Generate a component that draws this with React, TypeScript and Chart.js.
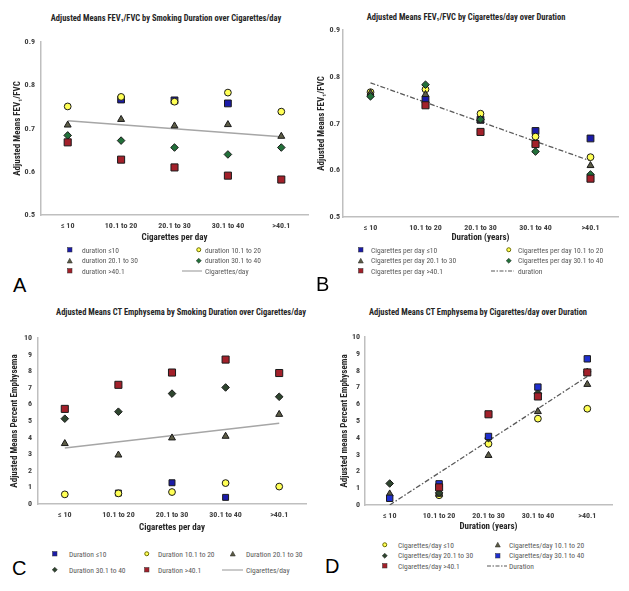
import React, { useEffect, useRef } from "react";
import { Chart, registerables } from "chart.js";
Chart.register(...registerables);

// ---------- DATA ----------
const categories = ["≤ 10", "10.1 to 20", "20.1 to 30", "30.1 to 40", ">40.1"];

// Panel A: FEV1/FVC by smoking duration (series) over cigarettes/day (x)
const aDurLe10 = [null, 0.767, 0.765, 0.758, null];
const aDur10to20 = [0.751, 0.773, 0.762, 0.783, 0.739];
const aDur20to30 = [0.708, 0.721, 0.706, 0.709, 0.682];
const aDur30to40 = [0.684, 0.672, 0.656, 0.640, 0.656];
const aDurGt40 = [0.668, 0.628, 0.610, 0.591, 0.582];
const aTrend = [0.718, null, null, null, 0.681];

// Panel B: FEV1/FVC by cigarettes/day (series) over duration (x)
const bCigLe10 = [null, 0.751, 0.708, 0.684, 0.668];
const bCig10to20 = [0.767, 0.773, 0.721, 0.672, 0.628];
const bCig20to30 = [0.765, 0.762, 0.706, 0.656, 0.610];
const bCig30to40 = [0.758, 0.783, 0.709, 0.640, 0.591];
const bCigGt40 = [null, 0.739, 0.682, 0.656, 0.582];
const bTrend = [0.787, null, null, null, 0.620];

// Panel C: % emphysema by duration (series) over cigarettes/day (x)
const cDurLe10 = [null, 0.66, 1.28, 0.40, null];
const cDur10to20 = [0.58, 0.64, 0.72, 1.26, 1.05];
const cDur20to30 = [3.64, 2.95, 3.98, 4.08, 5.40];
const cDur30to40 = [5.14, 5.56, 6.65, 7.02, 6.46];
const cDurGt40 = [5.73, 7.18, 7.92, 8.70, 7.89];
const cTrend = [3.37, null, null, null, 4.86];

// Panel D: % emphysema by cigarettes/day (series) over duration (x)
const dCigLe10 = [null, 0.58, 3.64, 5.14, 5.73];
const dCig10to20 = [0.66, 0.64, 2.95, 5.56, 7.18];
const dCig20to30 = [1.28, 0.72, 3.98, 6.65, 7.92];
const dCig30to40 = [0.40, 1.26, 4.08, 7.02, 8.70];
const dCigGt40 = [null, 1.05, 5.40, 6.46, 7.89];
const dTrend = [0, null, null, null, 7.65];

// ---------- STYLE ----------
const FONT = "'Liberation Sans Narrow', 'Arial Narrow', 'Roboto Condensed', 'Liberation Sans', sans-serif";
const BLUE = "#1b1ba8";
const YELLOW = "#ffff55";
const OLIVE = "#5c5c46";
const GREEN = "#22703a";
const DARKG = "#2e452e";
const RED = "#a3202a";
const TREND = "#a6a6a6";
const DASH = "#595959";

type Kind = "rect" | "circle" | "triangle" | "rectRot" | "line" | "dashdot";
interface S { label: string; data: (number | null)[]; kind: Kind; fill: string; r: number; }

const mk = (label: string, data: (number | null)[], kind: Kind, fill: string, r: number): S => ({ label, data, kind, fill, r });

interface LegendItem { s: S; mx: number; tx: number; y: number; lx0?: number; lx1?: number; }

interface PanelCfg {
  panelX: number;
  plot: { left: number; right: number; top: number; bottom: number };
  series: S[];
  yMin: number; yMax: number; yStep: number; yDec: number;
  yTitle: string; xTitle: string;
  yTitlePad: number; xTitlePad: number; yTickPad: number;
}

function PanelChart({ cfg }: { cfg: PanelCfg }) {
  const ref = useRef<HTMLCanvasElement | null>(null);
  const { panelX, plot } = cfg;
  const cTop = plot.top - 12;
  const cW = plot.right + 6 - panelX;
  const cH = plot.bottom + 32 - cTop;
  useEffect(() => {
    if (!ref.current) return;
    const n = cfg.series.length;
    const datasets: any[] = cfg.series.map((s, i) => {
      if (s.kind === "line" || s.kind === "dashdot") {
        return {
          label: s.label, data: s.data, spanGaps: true, pointRadius: 0,
          borderColor: s.fill, borderWidth: s.kind === "line" ? 1.5 : 1.3,
          borderDash: s.kind === "dashdot" ? [5, 2, 1.5, 2] : [],
          order: 100, fill: false, tension: 0,
        };
      }
      return {
        label: s.label, data: s.data, showLine: false,
        pointStyle: s.kind, pointRadius: s.r, pointHoverRadius: s.r,
        pointBackgroundColor: s.fill, pointBorderColor: "#1a1a1a", pointBorderWidth: 1,
        order: n - i,
      };
    });
    const chart = new Chart(ref.current, {
      type: "line",
      data: { labels: categories, datasets },
      options: {
        responsive: false,
        animation: false,
        layout: { padding: { top: 12, right: 6, left: 0, bottom: 0 } },
        plugins: { legend: { display: false }, tooltip: { enabled: false }, title: { display: false } },
        scales: {
          x: {
            type: "category", offset: true,
            grid: { display: false, drawTicks: false },
            border: { display: true, color: "#bfbfbf", width: 1.5 },
            ticks: { padding: 6, color: "#404040", autoSkip: false, maxRotation: 0, font: { family: FONT, size: 8, weight: "bold" } },
            title: { display: true, text: cfg.xTitle, color: "#262626", font: { family: FONT, size: 9, weight: "bold" }, padding: { top: 0, bottom: cfg.xTitlePad } },
            afterFit: (s: any) => { s.height = 32; },
          },
          y: {
            min: cfg.yMin, max: cfg.yMax,
            grid: { display: false, drawTicks: false },
            border: { display: true, color: "#bfbfbf", width: 1.5 },
            ticks: {
              stepSize: cfg.yStep, padding: cfg.yTickPad, color: "#404040",
              font: { family: FONT, size: 8, weight: "bold" },
              callback: (v: any) => Number(v).toFixed(cfg.yDec),
            },
            title: { display: true, text: cfg.yTitle, color: "#262626", font: { family: FONT, size: 9, weight: "bold" }, padding: { top: cfg.yTitlePad, bottom: 0 } },
            afterFit: (s: any) => { s.width = plot.left - panelX; },
          },
        },
      } as any,
    });
    return () => chart.destroy();
  }, []);
  return (
    <canvas
      ref={ref}
      width={cW}
      height={cH}
      style={{ position: "absolute", left: panelX, top: cTop, width: cW, height: cH }}
    />
  );
}

function Marker({ s, x, y, lx0, lx1 }: { s: S; x: number; y: number; lx0?: number; lx1?: number }) {
  if (s.kind === "line" || s.kind === "dashdot") {
    const a = lx0 ?? x - 10, b = lx1 ?? x + 10;
    return (
      <svg style={{ position: "absolute", left: a, top: y - 2, overflow: "visible" }} width={b - a} height={4}>
        <line x1={0} y1={2} x2={b - a} y2={2} stroke={s.fill} strokeWidth={1.2}
          strokeDasharray={s.kind === "dashdot" ? "4 1.5 1.5 1.5" : undefined} />
      </svg>
    );
  }
  const sz = 6;
  let shape: any;
  if (s.kind === "rect") shape = <rect x={0.5} y={0.5} width={4.5} height={4.5} fill={s.fill} stroke="#333" strokeWidth={0.5} />;
  else if (s.kind === "circle") shape = <circle cx={2.75} cy={2.75} r={2} fill={YELLOW} stroke="#6b6b00" strokeWidth={1} />;
  else if (s.kind === "triangle") shape = <polygon points="2.75,0.3 5.3,5 0.2,5" fill={s.fill} stroke="#222" strokeWidth={0.5} />;
  else shape = <polygon points="2.75,0.2 5.3,2.75 2.75,5.3 0.2,2.75" fill={s.fill} stroke="#222" strokeWidth={0.5} />;
  return (
    <svg style={{ position: "absolute", left: x - 2.75, top: y - 2.75 }} width={sz} height={sz}>{shape}</svg>
  );
}

function Legend({ items }: { items: LegendItem[] }) {
  return (
    <>
      {items.map((it, i) => (
        <React.Fragment key={i}>
          <Marker s={it.s} x={it.mx} y={it.y} lx0={it.lx0} lx1={it.lx1} />
          <div style={{
            position: "absolute", left: it.tx, top: it.y - 4.5, fontFamily: FONT, fontSize: 7.5,
            lineHeight: "9px", color: "#595959", whiteSpace: "nowrap",
          }}>{it.s.label}</div>
        </React.Fragment>
      ))}
    </>
  );
}

function Title({ text, cx, cy }: { text: string; cx: number; cy: number }) {
  return (
    <div style={{
      position: "absolute", left: cx, top: cy - 5, transform: "translateX(-50%)",
      fontFamily: FONT, fontWeight: "bold", fontSize: 8.5, lineHeight: "10px", color: "#262626", whiteSpace: "nowrap",
    }}>{text}</div>
  );
}

function Letter({ text, x, cy }: { text: string; x: number; cy: number }) {
  return (
    <div style={{
      position: "absolute", left: x, top: cy - 10, fontFamily: "'Liberation Sans', Arial, sans-serif",
      fontSize: 20, lineHeight: "20px", color: "#000",
    }}>{text}</div>
  );
}

// series definitions
const A = [
  mk("duration ≤10", aDurLe10, "rect", BLUE, 4.8),
  mk("duration 10.1 to 20", aDur10to20, "circle", YELLOW, 3.4),
  mk("duration 20.1 to 30", aDur20to30, "triangle", OLIVE, 4),
  mk("duration 30.1 to 40", aDur30to40, "rectRot", GREEN, 3.8),
  mk("duration >40.1", aDurGt40, "rect", RED, 5),
  mk("Cigarettes/day", aTrend, "line", TREND, 0),
];
const B = [
  mk("Cigarettes per day ≤10", bCigLe10, "rect", BLUE, 4.8),
  mk("Cigarettes per day 10.1 to 20", bCig10to20, "circle", YELLOW, 3.4),
  mk("Cigarettes per day 20.1 to 30", bCig20to30, "triangle", OLIVE, 4),
  mk("Cigarettes per day 30.1 to 40", bCig30to40, "rectRot", GREEN, 3.8),
  mk("Cigarettes per day >40.1", bCigGt40, "rect", RED, 5),
  mk("duration", bTrend, "dashdot", DASH, 0),
];
const C = [
  mk("Duration ≤10", cDurLe10, "rect", BLUE, 4.2),
  mk("Duration 10.1 to 20", cDur10to20, "circle", YELLOW, 3.4),
  mk("Duration 20.1 to 30", cDur20to30, "triangle", OLIVE, 4),
  mk("Duration 30.1 to 40", cDur30to40, "rectRot", DARKG, 3.8),
  mk("Duration >40.1", cDurGt40, "rect", RED, 5),
  mk("Cigarettes/day", cTrend, "line", TREND, 0),
];
const D = [
  mk("Cigarettes/day ≤10", dCigLe10, "circle", YELLOW, 3.4),
  mk("Cigarettes/day 10.1 to 20", dCig10to20, "triangle", OLIVE, 4),
  mk("Cigarettes/day 20.1 to 30", dCig20to30, "rectRot", DARKG, 3.8),
  mk("Cigarettes/day 30.1 to 40", dCig30to40, "rect", "#1f2fd0", 4.5),
  mk("Cigarettes/day >40.1", dCigGt40, "rect", RED, 5),
  mk("Duration", dTrend, "dashdot", DASH, 0),
];

const cfgA: PanelCfg = {
  panelX: 0, plot: { left: 41, right: 308, top: 42, bottom: 215 }, series: A,
  yMin: 0.5, yMax: 0.9, yStep: 0.1, yDec: 1,
  yTitle: "Adjusted Means FEV₁/FVC", xTitle: "Cigarettes per day", yTitlePad: 12.6, xTitlePad: 4.3, yTickPad: 6,
};
const cfgB: PanelCfg = {
  panelX: 315, plot: { left: 343, right: 618, top: 30, bottom: 217 }, series: B,
  yMin: 0.5, yMax: 0.9, yStep: 0.1, yDec: 1,
  yTitle: "Adjusted Means FEV₁/FVC", xTitle: "Duration (years)", yTitlePad: 1.8, xTitlePad: 5.6, yTickPad: 3,
};
const cfgC: PanelCfg = {
  panelX: 0, plot: { left: 38, right: 306, top: 338, bottom: 504 }, series: C,
  yMin: 0, yMax: 10, yStep: 1, yDec: 0,
  yTitle: "Adjusted Means Percent Emphysema", xTitle: "Cigarettes per day", yTitlePad: 9.6, xTitlePad: 2.6, yTickPad: 6,
};
const cfgD: PanelCfg = {
  panelX: 315, plot: { left: 365, right: 612, top: 337, bottom: 505 }, series: D,
  yMin: 0, yMax: 10, yStep: 1, yDec: 0,
  yTitle: "Adjusted means Percent Emphysema", xTitle: "Duration (years)", yTitlePad: 24.6, xTitlePad: 4.6, yTickPad: 5,
};

const legA: LegendItem[] = [
  { s: A[0], mx: 70, tx: 82, y: 250 },
  { s: A[1], mx: 199, tx: 205, y: 250 },
  { s: A[2], mx: 70, tx: 82, y: 260.5 },
  { s: A[3], mx: 199, tx: 205, y: 260.5 },
  { s: A[4], mx: 70, tx: 82, y: 271 },
  { s: A[5], mx: 192, tx: 205, y: 271, lx0: 182, lx1: 202 },
];
const legB: LegendItem[] = [
  { s: B[0], mx: 361, tx: 371, y: 250 },
  { s: B[1], mx: 509, tx: 518, y: 250 },
  { s: B[2], mx: 361, tx: 371, y: 260.5 },
  { s: B[3], mx: 509, tx: 518, y: 260.5 },
  { s: B[4], mx: 361, tx: 371, y: 271 },
  { s: B[5], mx: 502, tx: 518, y: 271, lx0: 491, lx1: 514 },
];
const legC: LegendItem[] = [
  { s: C[0], mx: 55, tx: 69, y: 554 },
  { s: C[1], mx: 147, tx: 158, y: 554 },
  { s: C[2], mx: 233, tx: 246, y: 554 },
  { s: C[3], mx: 55, tx: 69, y: 570 },
  { s: C[4], mx: 147, tx: 158, y: 570 },
  { s: C[5], mx: 232, tx: 246, y: 570, lx0: 222, lx1: 243 },
];
const legD: LegendItem[] = [
  { s: D[0], mx: 385, tx: 398, y: 545 },
  { s: D[1], mx: 498, tx: 509, y: 545 },
  { s: D[2], mx: 385, tx: 398, y: 555.5 },
  { s: D[3], mx: 498, tx: 509, y: 555.5 },
  { s: D[4], mx: 385, tx: 398, y: 566 },
  { s: D[5], mx: 497, tx: 509, y: 566, lx0: 487, lx1: 507 },
];

export default function App() {
  return (
    <div style={{ position: "absolute", left: 0, top: 0, width: 629, height: 591, background: "#fff", overflow: "hidden" }}>
      <Title text="Adjusted Means FEV₁/FVC  by Smoking Duration  over Cigarettes/day" cx={166} cy={18} />
      <Title text="Adjusted Means FEV₁/FVC by Cigarettes/day over Duration" cx={466} cy={17} />
      <Title text="Adjusted Means CT Emphysema by Smoking Duration over Cigarettes/day" cx={181} cy={312} />
      <Title text="Adjusted Means CT Emphysema by Cigarettes/day over Duration" cx={478} cy={312} />
      <PanelChart cfg={cfgA} />
      <PanelChart cfg={cfgB} />
      <PanelChart cfg={cfgC} />
      <PanelChart cfg={cfgD} />
      <Legend items={legA} />
      <Legend items={legB} />
      <Legend items={legC} />
      <Legend items={legD} />
      <Letter text="A" x={13} cy={285} />
      <Letter text="B" x={316} cy={284} />
      <Letter text="C" x={12} cy={568} />
      <Letter text="D" x={325} cy={566} />
    </div>
  );
}
